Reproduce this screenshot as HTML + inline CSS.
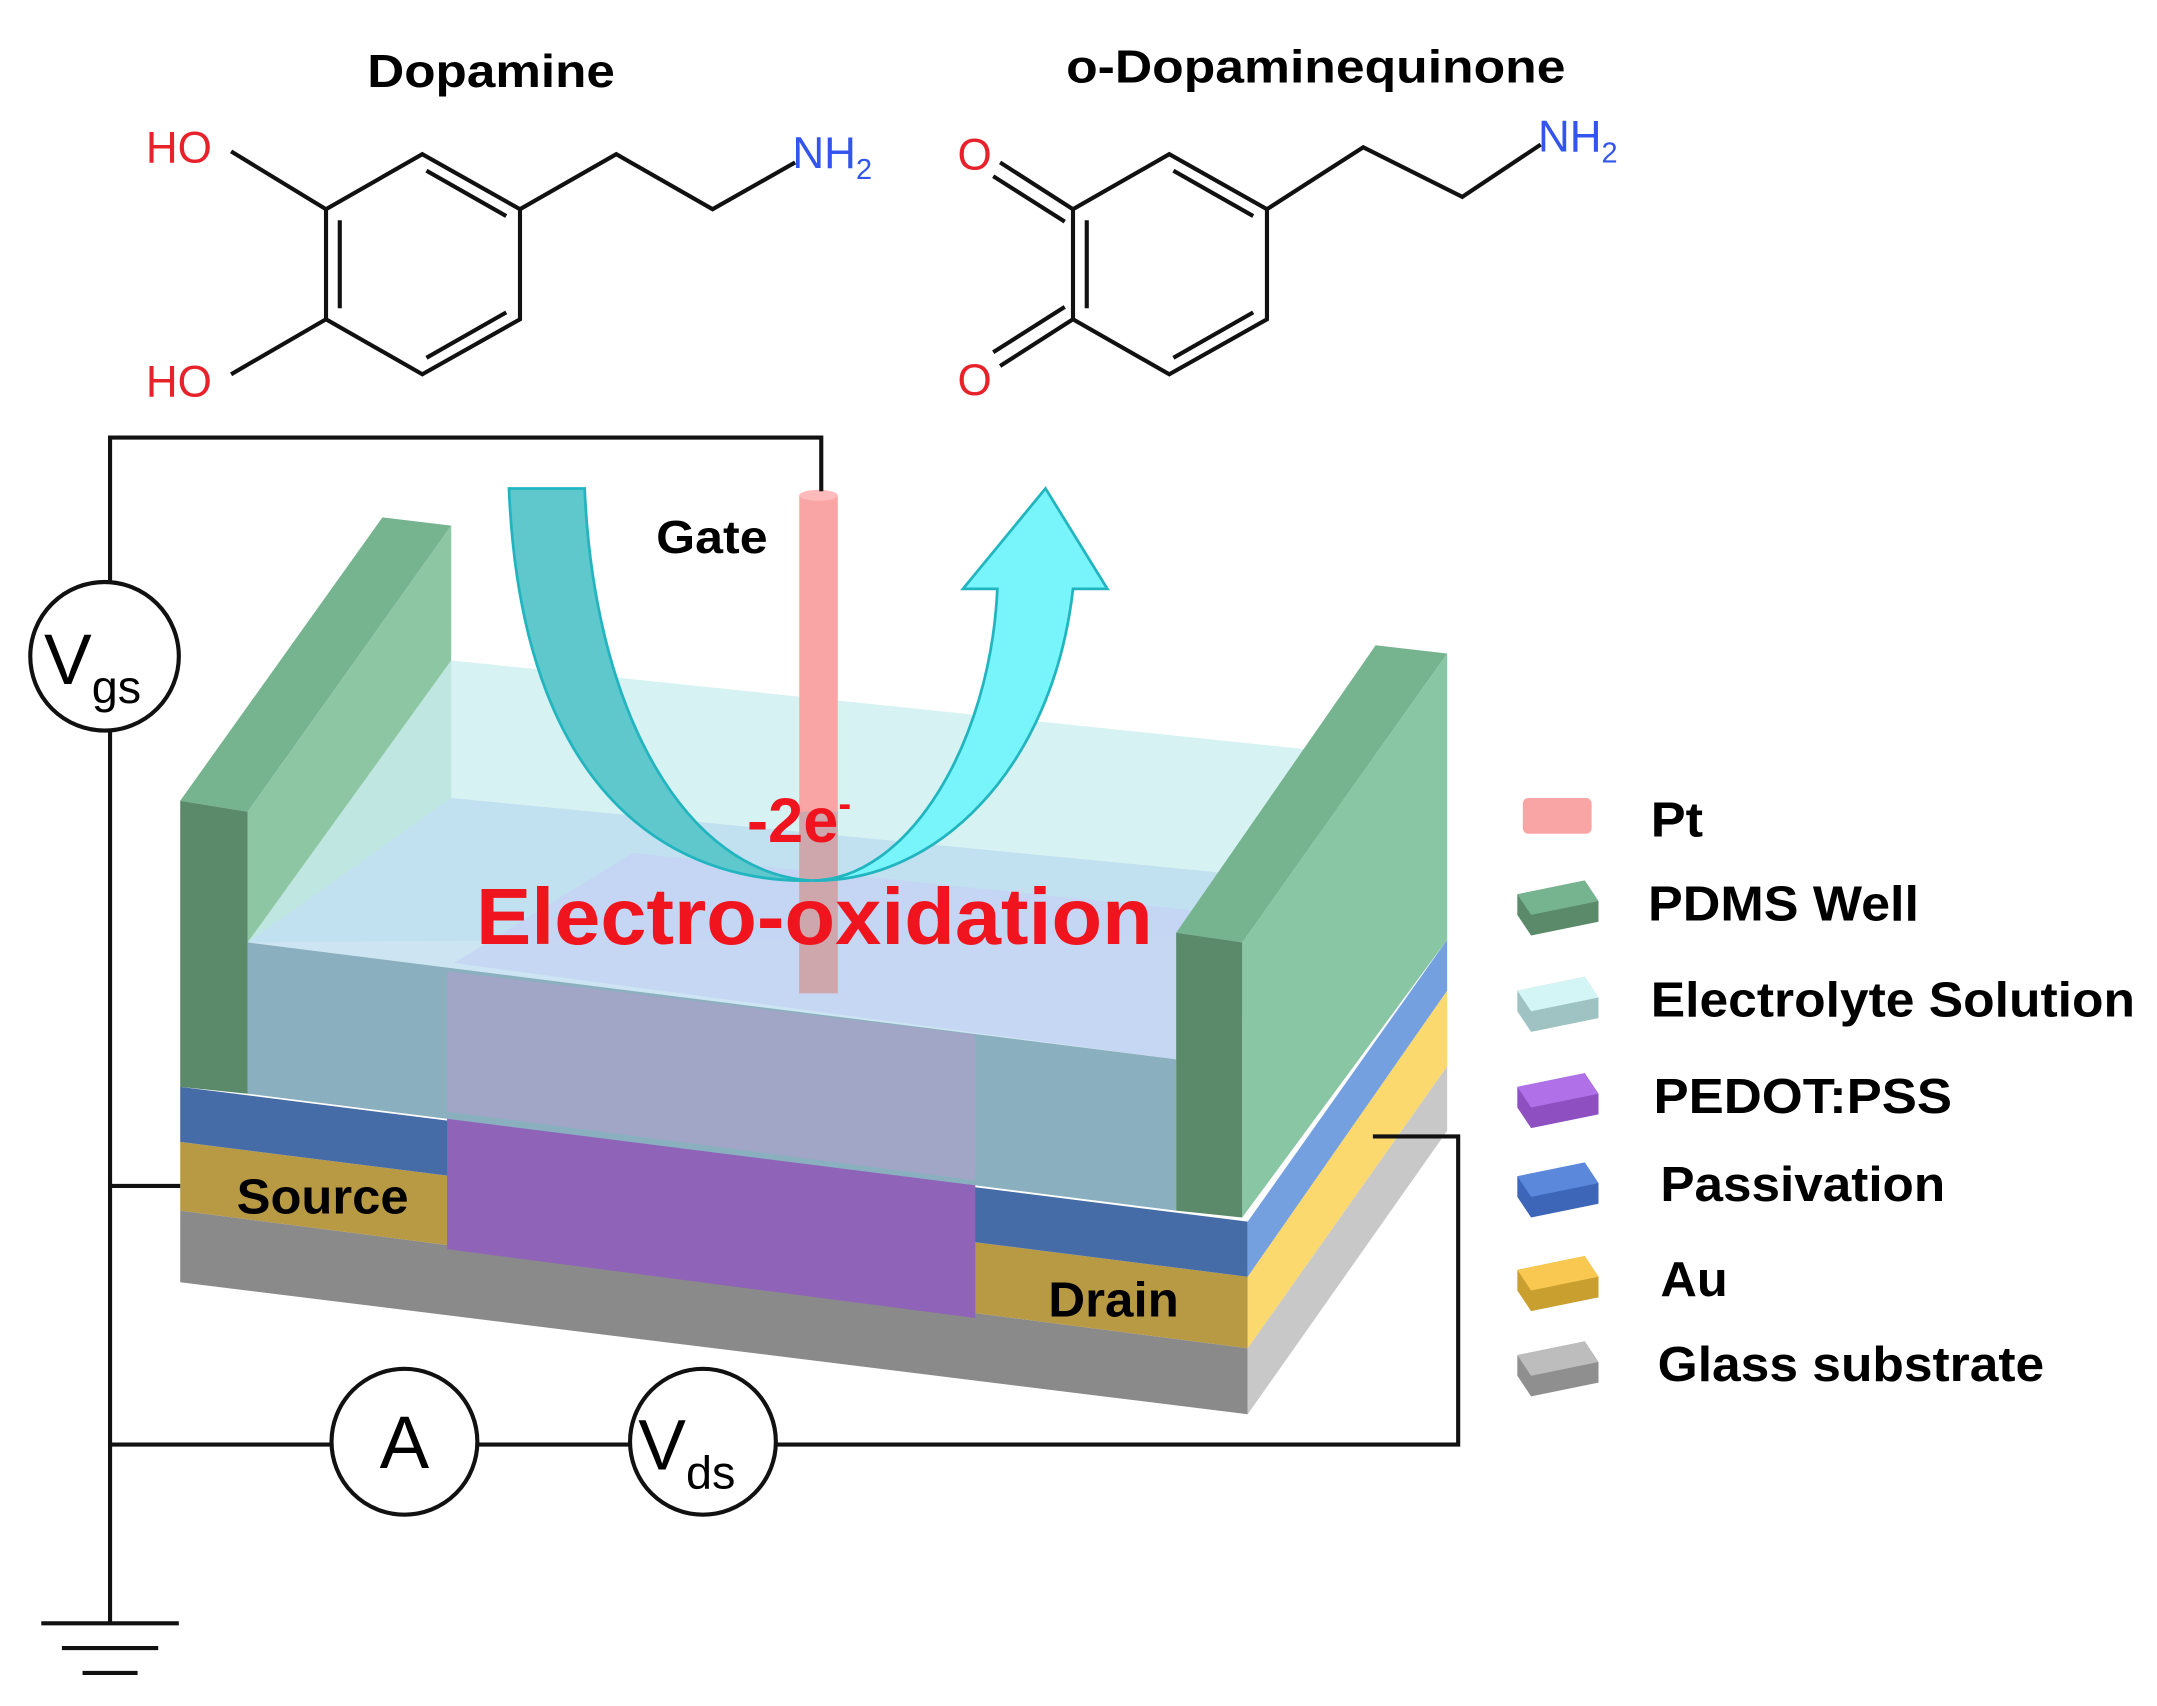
<!DOCTYPE html>
<html><head><meta charset="utf-8"><style>html,body{margin:0;padding:0;background:#fff}svg{display:block}</style></head>
<body>
<svg width="2157" height="1706" viewBox="0 0 1568 1240" xmlns="http://www.w3.org/2000/svg" font-family="Liberation Sans, Arial, sans-serif">
<rect width="1568" height="1240" fill="#fff"/>
<!-- titles -->
<text x="267" y="63" font-size="34" font-weight="bold" textLength="180" lengthAdjust="spacingAndGlyphs">Dopamine</text>
<text x="775" y="60" font-size="34" font-weight="bold" textLength="363" lengthAdjust="spacingAndGlyphs">o-Dopaminequinone</text>
<!-- dopamine -->
<g stroke="#111" stroke-width="3" fill="none">
<polygon points="307,112 378,152 378,232 307,272 237,232 237,152"/>
<line x1="247" y1="160" x2="247" y2="224"/>
<line x1="310" y1="124" x2="368" y2="157"/>
<line x1="368" y1="227" x2="310" y2="260"/>
<polyline points="237,152 168,110"/>
<polyline points="237,232 168,272"/>
<polyline points="378,152 448,112 518,152 578,118"/>
<!-- quinone -->
<polyline points="780,152 850,112 921,152 921,232 850,272 780,232 780,152"/>
<line x1="790" y1="160" x2="790" y2="224"/>
<line x1="853" y1="124" x2="911" y2="157"/>
<line x1="911" y1="227" x2="853" y2="260"/>
<line x1="780" y1="152" x2="727" y2="118"/>
<line x1="774" y1="161" x2="722" y2="128"/>
<line x1="780" y1="232" x2="727" y2="266"/>
<line x1="774" y1="223" x2="722" y2="256"/>
<polyline points="921,152 991,107 1063,143 1120,105"/>
</g>
<g font-size="32">
<text x="106" y="118" fill="#e8222a">HO</text>
<text x="106" y="288" fill="#e8222a">HO</text>
<text x="576" y="122" fill="#3355ee">NH<tspan font-size="21" dy="8">2</tspan></text>
<text x="696" y="123" fill="#e8222a">O</text>
<text x="696" y="287" fill="#e8222a">O</text>
<text x="1118" y="110" fill="#3355ee">NH<tspan font-size="21" dy="8">2</tspan></text>
</g>
<!-- device: glass -->
<polygon points="131,880 907,980 907,1028 131,932" fill="#8a8a8a"/>
<polygon points="907,980 1052,775 1052,822 907,1028" fill="#c8c8c8"/>
<!-- Au -->
<polygon points="131,830 907,928 907,980 131,880" fill="#b89a45"/>
<polygon points="907,928 1052,720 1052,775 907,980" fill="#fbd96e"/>
<!-- passivation -->
<polygon points="131,790 907,888 907,928 131,830" fill="#456ca6"/>
<polygon points="907,888 1052,683 1052,720 907,928" fill="#75a0e0"/>
<!-- PEDOT -->
<polygon points="325,808 709,858 709,958 325,908" fill="#8e63b8"/>
<!-- electrolyte -->
<polygon points="180,685 328,480 1050,555 855,680" fill="#cdeff0" opacity="0.8"/>
<polygon points="328,480 328,580 180,685" fill="#bfe6e0"/>
<polygon points="328,580 1050,650 855,770 180,685" fill="#b8d8ee" opacity="0.7"/>
<polygon points="460,620 900,665 855,770 330,700" fill="#c4d3f4" opacity="0.8"/>
<polygon points="180,685 855,770 855,880 180,795" fill="#8aafbf"/>
<polygon points="325,706 709,752 709,858 325,808" fill="#a2a6c6"/>
<!-- PDMS left -->
<polygon points="131,582 278,376 328,382 180,590" fill="#76b38f"/>
<polygon points="180,590 328,382 328,480 180,685" fill="#8cc6a3"/>
<polygon points="131,582 180,590 180,795 131,790" fill="#5a8a6a"/>
<!-- PDMS right -->
<polygon points="855,678 1000,469 1052,475 903,685" fill="#76b38f"/>
<polygon points="903,685 1052,475 1052,683 903,885" fill="#89c6a3"/>
<polygon points="855,678 903,685 903,885 855,880" fill="#5a8a6a"/>
<!-- gate rod -->
<rect x="581" y="360" width="28" height="362" fill="#f9a5a5"/>
<rect x="581" y="590" width="28" height="132" fill="#b0a8b0" opacity="0.6"/>
<ellipse cx="595" cy="360" rx="14" ry="4" fill="#fbb"/>
<!-- arrow -->
<path d="M370,355 L425,355 C432,520 500,635 590,640 C510,642 380,600 370,355 Z" fill="#5ec8cc" stroke="#22b5c0" stroke-width="2"/>
<path d="M590,640 C660,640 720,540 725,428 L700,428 L760,355 L805,428 L780,428 C765,560 680,642 590,640 Z" fill="#78f5fa" stroke="#22b5c0" stroke-width="2"/>
<!-- circuit -->
<g stroke="#111" stroke-width="3" fill="none">
<polyline points="80,423 80,318 597,318 597,357"/>
<line x1="80" y1="531" x2="80" y2="1180"/>
<line x1="80" y1="862" x2="131" y2="862"/>
<line x1="80" y1="1050" x2="241" y2="1050"/>
<line x1="347" y1="1050" x2="458" y2="1050"/>
<polyline points="564,1050 1060,1050 1060,826 998,826"/>
<line x1="30" y1="1180" x2="130" y2="1180"/>
<line x1="45" y1="1198" x2="115" y2="1198"/>
<line x1="60" y1="1216" x2="100" y2="1216"/>
<circle cx="76" cy="477" r="54" fill="#fff"/>
<circle cx="294" cy="1048" r="53" fill="#fff"/>
<circle cx="511" cy="1048" r="53" fill="#fff"/>
</g>
<text x="32" y="497" font-size="52">V<tspan font-size="34" dy="14">gs</tspan></text>
<text x="294" y="1067" font-size="54" text-anchor="middle">A</text>
<text x="464" y="1068" font-size="52">V<tspan font-size="34" dy="14">ds</tspan></text>
<!-- labels -->
<text x="477" y="402" font-size="34" font-weight="bold" textLength="81" lengthAdjust="spacingAndGlyphs">Gate</text>
<text x="172" y="882" font-size="36" font-weight="bold" textLength="125" lengthAdjust="spacingAndGlyphs">Source</text>
<text x="762" y="957" font-size="36" font-weight="bold" textLength="95" lengthAdjust="spacingAndGlyphs">Drain</text>
<text x="543" y="612" font-size="46" font-weight="bold" fill="#f0141e">-2e<tspan font-size="28" dy="-18">-</tspan></text>
<text x="346" y="686" font-size="58" font-weight="bold" fill="#f0141e" textLength="492" lengthAdjust="spacingAndGlyphs">Electro-oxidation</text>
<!-- legend -->
<rect x="1107" y="580" width="50" height="26" rx="4" fill="#f9a5a5"/>
<polygon points="1103,650 1152,640 1162,655 1162,670 1113,680 1103,665" fill="#5a8a6a"/><polygon points="1103,650 1152,640 1162,655 1113,665" fill="#76b38f"/>
<polygon points="1103,720 1152,710 1162,725 1162,740 1113,750 1103,735" fill="#9fc3c3"/><polygon points="1103,720 1152,710 1162,725 1113,735" fill="#d4f5f5"/>
<polygon points="1103,790 1152,780 1162,795 1162,810 1113,820 1103,805" fill="#8e4fc0"/><polygon points="1103,790 1152,780 1162,795 1113,805" fill="#b070e8"/>
<polygon points="1103,855 1152,845 1162,860 1162,875 1113,885 1103,870" fill="#3d66b8"/><polygon points="1103,855 1152,845 1162,860 1113,870" fill="#5b88db"/>
<polygon points="1103,923 1152,913 1162,928 1162,943 1113,953 1103,938" fill="#c9a030"/><polygon points="1103,923 1152,913 1162,928 1113,938" fill="#f8c850"/>
<polygon points="1103,985 1152,975 1162,990 1162,1005 1113,1015 1103,1000" fill="#8f8f8f"/><polygon points="1103,985 1152,975 1162,990 1113,1000" fill="#bdbdbd"/>
<g font-size="36" font-weight="bold">
<text x="1200" y="608" textLength="38" lengthAdjust="spacingAndGlyphs">Pt</text>
<text x="1198" y="669" textLength="197" lengthAdjust="spacingAndGlyphs">PDMS Well</text>
<text x="1200" y="739" textLength="352" lengthAdjust="spacingAndGlyphs">Electrolyte Solution</text>
<text x="1202" y="809" textLength="217" lengthAdjust="spacingAndGlyphs">PEDOT:PSS</text>
<text x="1207" y="873" textLength="207" lengthAdjust="spacingAndGlyphs">Passivation</text>
<text x="1207" y="942" textLength="49" lengthAdjust="spacingAndGlyphs">Au</text>
<text x="1205" y="1004" textLength="281" lengthAdjust="spacingAndGlyphs">Glass substrate</text>
</g>
</svg>
</body></html>
